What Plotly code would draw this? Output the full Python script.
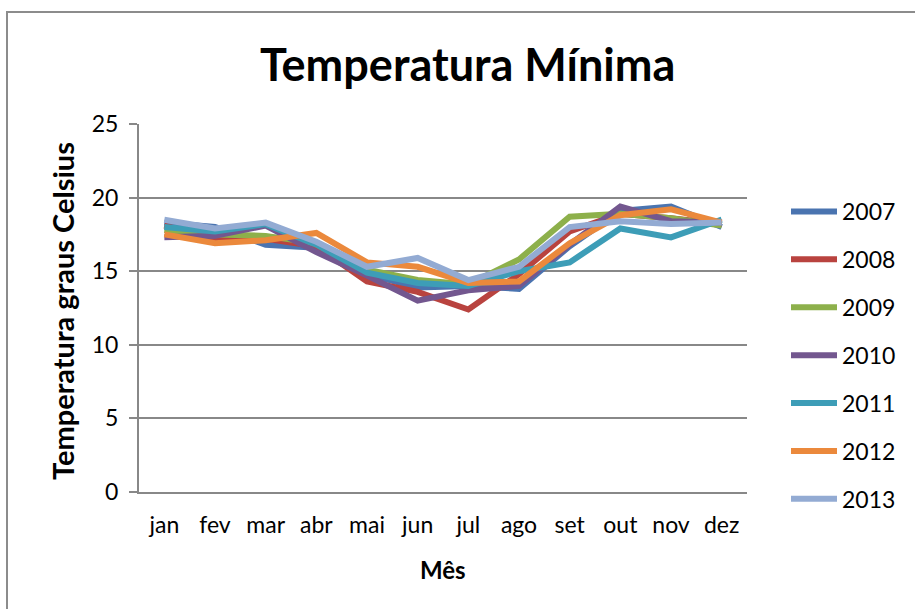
import plotly.graph_objects as go

# Monthly minimum temperature (°C), one series per year
meses = ["jan", "fev", "mar", "abr", "mai", "jun", "jul", "ago", "set", "out", "nov", "dez"]
anos = ["2007", "2008", "2009", "2010", "2011", "2012", "2013"]

t2007 = [18.3, 18.0, 16.8, 16.6, 14.8, 13.9, 14.0, 13.8, 16.7, 19.1, 19.4, 18.0]
t2008 = [18.1, 17.2, 17.2, 16.7, 14.3, 13.6, 12.4, 14.8, 17.7, 18.9, 18.6, 18.2]
t2009 = [17.8, 17.5, 17.4, 16.9, 15.1, 14.4, 14.1, 15.8, 18.7, 18.9, 18.6, 18.1]
t2010 = [17.3, 17.4, 18.1, 16.3, 14.7, 13.0, 13.7, 14.0, 16.8, 19.4, 18.4, 18.3]
t2011 = [18.0, 17.7, 18.2, 16.8, 14.9, 14.2, 14.0, 15.0, 15.6, 17.9, 17.3, 18.5]
t2012 = [17.5, 16.9, 17.1, 17.6, 15.6, 15.3, 14.2, 14.3, 16.9, 18.8, 19.2, 18.3]
t2013 = [18.5, 17.9, 18.3, 17.0, 15.3, 15.9, 14.4, 15.3, 18.0, 18.4, 18.2, 18.3]

series = [t2007, t2008, t2009, t2010, t2011, t2012, t2013]
cores = ["#4A74B0", "#B9433F", "#8DB04B", "#73578F", "#3D9DB7", "#EB893C", "#93ABD3"]

FONT = "Lato"
W, H = 915, 609
L, R, T, B = 139, 168, 124, 117
pw, ph = W - L - R, H - T - B

fig = go.Figure()
for ano, vals, cor in zip(anos, series, cores):
    fig.add_trace(go.Scatter(
        x=meses, y=vals, name=ano, mode="lines",
        line=dict(color=cor, width=6, shape="linear"),
        legendgroup=ano,
    ))

def px_x(px):
    return (px - L) / pw

def px_y(py):
    return (H - B - py) / ph

fig.update_layout(
    width=W, height=H,
    margin=dict(l=L, r=R, t=T, b=B, pad=0),
    paper_bgcolor="white", plot_bgcolor="white",
    font=dict(family=FONT, color="black", size=22),
    showlegend=True,
    legend=dict(
        x=px_x(786), y=px_y(190), xanchor="left", yanchor="top",
        font=dict(family=FONT, size=23, color="black"),
        tracegroupgap=15, itemwidth=46, bgcolor="rgba(0,0,0,0)",
    ),
    xaxis=dict(
        type="category", categoryorder="array", categoryarray=meses,
        showgrid=False, showline=True, linecolor="#888888", linewidth=2,
        ticks="", tickfont=dict(family=FONT, size=23, color="black"),
        ticklabelstandoff=11, zeroline=False,
        range=[-0.5, 11.5],
    ),
    yaxis=dict(
        range=[0, 25], dtick=5, tick0=0,
        showgrid=True, gridcolor="#888888", gridwidth=1.5,
        showline=True, linecolor="#888888", linewidth=2,
        ticks="outside", ticklen=8, tickcolor="#888888", tickwidth=2,
        tickfont=dict(family=FONT, size=23, color="black"),
        ticklabelstandoff=6, zeroline=False,
    ),
    annotations=[
        dict(text="<b>Temperatura Mínima</b>", x=px_x(467), y=px_y(64),
             xref="paper", yref="paper", showarrow=False,
             xanchor="center", yanchor="middle",
             font=dict(family=FONT, size=45, color="black")),
        dict(text="<b>Temperatura graus Celsius</b>", x=px_x(62), y=px_y(311),
             xref="paper", yref="paper", showarrow=False, textangle=-90,
             xanchor="center", yanchor="middle",
             font=dict(family=FONT, size=29, color="black")),
        dict(text="<b>Mês</b>", x=px_x(443), y=px_y(569),
             xref="paper", yref="paper", showarrow=False,
             xanchor="center", yanchor="middle",
             font=dict(family=FONT, size=24, color="black")),
    ],
    shapes=[
        dict(type="rect", xref="paper", yref="paper",
             x0=px_x(7), x1=px_x(930), y0=px_y(12), y1=px_y(630),
             line=dict(color="#8C8C8C", width=2), fillcolor="rgba(0,0,0,0)",
             layer="below"),
    ],
)

fig.write_html("out.html")
